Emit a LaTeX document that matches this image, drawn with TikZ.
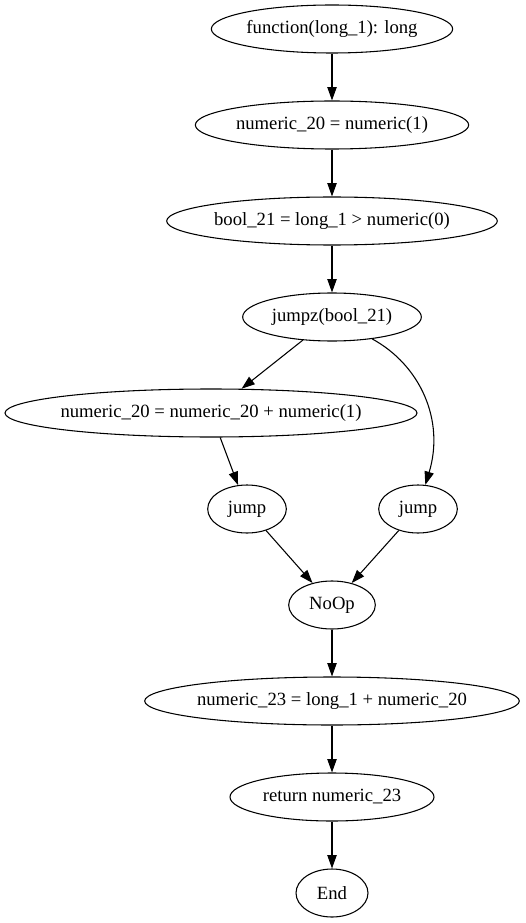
\documentclass[tikz,border=0pt]{standalone}
\usepackage{fontspec}
\setmainfont{Liberation Serif}
\usetikzlibrary{shapes.geometric,arrows.meta}
\newcommand{\oplbl}[1]{\makebox[0pt]{#1}}

\begin{document}
\begin{tikzpicture}[x=0.75pt,y=-0.75pt,line width=0.8pt,
	op/.style={draw,ellipse,inner sep=0pt,minimum height=36pt,font=\fontsize{14}{16}\selectfont},
	>={Triangle[length=10pt,width=7pt]}]
	\useasboundingbox (0,0) rectangle (525,923);
	\node[op,minimum width=181pt] (fn) at (332,29) {\oplbl{function(long\_1): long}};
	\node[op,minimum width=205pt] (n20) at (332,125) {\oplbl{numeric\_20 = numeric(1)}};
	\node[op,minimum width=248pt] (b21) at (332,221) {\oplbl{bool\_21 = long\_1 > numeric(0)}};
	\node[op,minimum width=134pt] (jz) at (332,317) {\oplbl{jumpz(bool\_21)}};
	\node[op,minimum width=309pt] (inc) at (211,413) {\oplbl{numeric\_20 = numeric\_20 + numeric(1)}};
	\node[op,minimum width=59pt] (jl) at (247,509) {\oplbl{jump}};
	\node[op,minimum width=59pt] (jr) at (418,509) {\oplbl{jump}};
	\node[op,minimum width=65pt] (nop) at (332,605) {\oplbl{NoOp}};
	\node[op,minimum width=281pt] (n23) at (332,701) {\oplbl{numeric\_23 = long\_1 + numeric\_20}};
	\node[op,minimum width=153pt] (ret) at (332,797) {\oplbl{return numeric\_23}};
	\node[op,minimum width=54pt] (end) at (332,893) {\oplbl{End}};
	\draw[->] (fn) -- (n20);
	\draw[->] (n20) -- (b21);
	\draw[->] (b21) -- (jz);
	\draw[->] (jz) -- (inc);
	\draw[->] (jz) .. controls (420,365) and (445,420) .. (jr);
	\draw[->] (inc) -- (jl);
	\draw[->] (jl) -- (nop);
	\draw[->] (jr) -- (nop);
	\draw[->] (nop) -- (n23);
	\draw[->] (n23) -- (ret);
	\draw[->] (ret) -- (end);
\end{tikzpicture}
\end{document}
